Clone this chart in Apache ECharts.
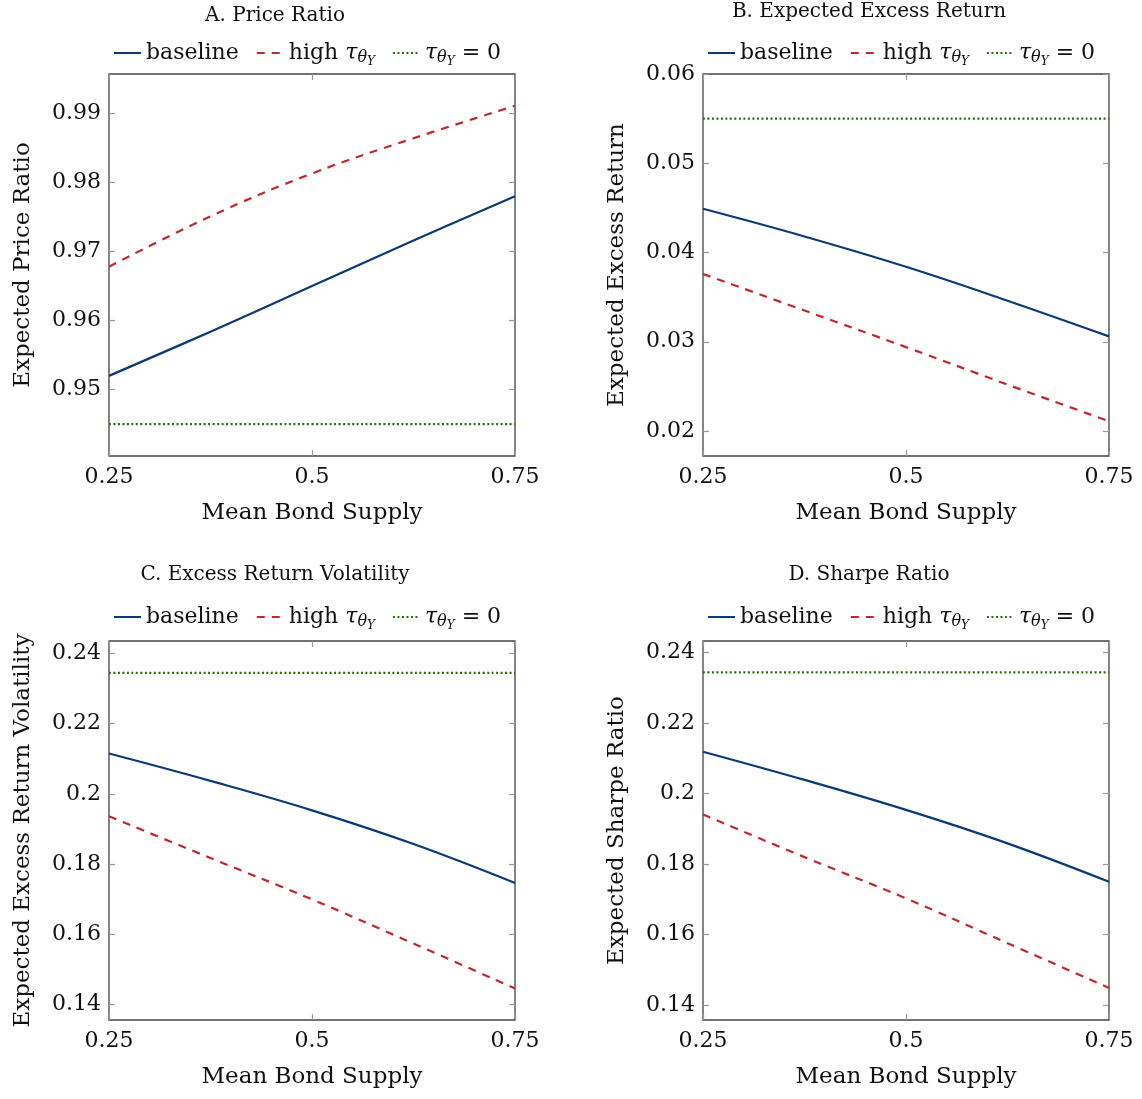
<!DOCTYPE html>
<html>
<head>
<meta charset="utf-8">
<script src="https://cdn.jsdelivr.net/npm/echarts@6/dist/echarts.min.js"></script>
<style>
  html, body { margin: 0; background: #fff; }
  #chart { width: 1142px; height: 1099px; }
</style>
</head>
<body>
<div id="chart"></div>
<script>
// mean bond supply on the x axis
const supply = [0.25, 0.375, 0.5, 0.625, 0.75];
const supplyTicks = [0.25, 0.5, 0.75];

const priceBaseline = [0.9520, 0.9584, 0.9650, 0.9716, 0.9780];
const priceHigh = [0.9678, 0.9751, 0.9813, 0.9864, 0.9911];
const priceZero = [0.945, 0.945, 0.945, 0.945, 0.945];
const priceTicks = [0.95, 0.96, 0.97, 0.98, 0.99];

const returnBaseline = [0.0449, 0.0418, 0.0384, 0.0346, 0.0306];
const returnHigh = [0.0376, 0.0335, 0.0294, 0.0252, 0.0211];
const returnZero = [0.055, 0.055, 0.055, 0.055, 0.055];
const returnTicks = [0.02, 0.03, 0.04, 0.05, 0.06];

const volBaseline = [0.2115, 0.2037, 0.1953, 0.1857, 0.1746];
const volHigh = [0.1936, 0.1817, 0.1699, 0.1573, 0.1445];
const volZero = [0.2345, 0.2345, 0.2345, 0.2345, 0.2345];
const volTicks = [0.14, 0.16, 0.18, 0.2, 0.22, 0.24];

const sharpeBaseline = [0.2119, 0.2039, 0.1954, 0.1859, 0.1750];
const sharpeHigh = [0.1941, 0.1820, 0.1703, 0.1576, 0.1449];
const sharpeZero = [0.2344, 0.2344, 0.2344, 0.2344, 0.2344];
const sharpeTicks = [0.14, 0.16, 0.18, 0.2, 0.22, 0.24];

const FONT = "DejaVu Serif";

const panels = [
  {title: "A. Price Ratio", yName: "Expected Price Ratio", lines: [priceBaseline, priceHigh, priceZero],
    ticks: priceTicks, min: 0.9404, max: 0.9957, left: 109, top: 74, height: 382, titleX: 270, titleY: 1, legendTop: 42},
  {title: "B. Expected Excess Return", yName: "Expected Excess Return", lines: [returnBaseline, returnHigh, returnZero],
    ticks: returnTicks, min: 0.0172, max: 0.06, left: 703, top: 74, height: 382, titleX: 864, titleY: -3, legendTop: 42},
  {title: "C. Excess Return Volatility", yName: "Expected Excess Return Volatility", lines: [volBaseline, volHigh, volZero],
    ticks: volTicks, min: 0.1355, max: 0.2436, left: 109, top: 641, height: 379, titleX: 270, titleY: 560, legendTop: 606},
  {title: "D. Sharpe Ratio", yName: "Expected Sharpe Ratio", lines: [sharpeBaseline, sharpeHigh, sharpeZero],
    ticks: sharpeTicks, min: 0.1358, max: 0.2433, left: 703, top: 641, height: 379, titleX: 864, titleY: 560, legendTop: 606},
];

const seriesNames = ["baseline", "high", "zero"];
const seriesStyles = [
  {color: "#0a3a78", width: 2.2, type: "solid"},
  {color: "#c5262c", width: 2.2, type: [8, 7]},
  {color: "#2a6e0c", width: 2.2, type: [2, 2.5]},
];
const legendLabels = {
  baseline: "baseline",
  high: "high {t|τ}{s|θ}{y|Y}",
  zero: "{t|τ}{s|θ}{y|Y} = 0",
};

const tickStyle = (values) => ({
  show: true, inside: true, length: 6, customValues: values,
  lineStyle: {color: "#999", width: 1.2},
});

const option = {
  animation: false,
  title: [],
  legend: [],
  grid: [],
  xAxis: [],
  yAxis: [],
  series: [],
};

panels.forEach((p, i) => {
  option.title.push({
    text: p.title, left: p.titleX, top: p.titleY, textAlign: "center",
    textStyle: {fontFamily: FONT, fontSize: 20, fontWeight: "normal", color: "#111"},
  });
  option.legend.push({
    data: seriesNames, left: p.left + 4, top: p.legendTop, padding: 0,
    itemWidth: 27, itemHeight: 14, itemGap: 17, selectedMode: false,
    itemStyle: {opacity: 0},
    formatter: (name) => legendLabels[name],
    textStyle: {
      fontFamily: FONT, fontSize: 22, color: "#111",
      rich: {
        t: {fontFamily: FONT, fontSize: 22, fontStyle: "italic", color: "#111"},
        s: {fontFamily: FONT, fontSize: 16, fontStyle: "italic", color: "#111", padding: [10, 0, 0, 0]},
        y: {fontFamily: FONT, fontSize: 12, fontStyle: "italic", color: "#111", padding: [18, 0, 0, 0]},
      },
    },
  });
  option.grid.push({
    left: p.left, top: p.top, width: 406, height: p.height,
    show: true, borderColor: "#444", borderWidth: 1.3, backgroundColor: "transparent",
  });
  // bottom axis with labels, top axis only mirrors the ticks
  option.xAxis.push({
    type: "value", gridIndex: i, min: 0.25, max: 0.75, position: "bottom",
    name: "Mean Bond Supply", nameLocation: "middle", nameGap: 46,
    nameTextStyle: {fontFamily: FONT, fontSize: 23, color: "#111"},
    axisLine: {show: false}, splitLine: {show: false},
    axisTick: tickStyle(supplyTicks),
    axisLabel: {customValues: supplyTicks, margin: 10, fontFamily: FONT, fontSize: 22, color: "#111"},
  });
  option.xAxis.push({
    type: "value", gridIndex: i, min: 0.25, max: 0.75, position: "top",
    axisLine: {show: false}, splitLine: {show: false},
    axisTick: tickStyle(supplyTicks), axisLabel: {show: false},
  });
  option.yAxis.push({
    type: "value", gridIndex: i, min: p.min, max: p.max, position: "left",
    name: p.yName, nameLocation: "middle", nameRotate: 90, nameGap: 74,
    nameTextStyle: {fontFamily: FONT, fontSize: 23, color: "#111"},
    axisLine: {show: false}, splitLine: {show: false},
    axisTick: tickStyle(p.ticks),
    axisLabel: {customValues: p.ticks, margin: 8, fontFamily: FONT, fontSize: 22, color: "#111"},
  });
  option.yAxis.push({
    type: "value", gridIndex: i, min: p.min, max: p.max, position: "right",
    axisLine: {show: false}, splitLine: {show: false},
    axisTick: tickStyle(p.ticks), axisLabel: {show: false},
  });
  p.lines.forEach((vals, k) => {
    option.series.push({
      name: seriesNames[k], type: "line", xAxisIndex: i * 2, yAxisIndex: i * 2,
      data: supply.map((x, j) => [x, vals[j]]),
      symbol: "none", smooth: 0.4,
      lineStyle: seriesStyles[k], itemStyle: {color: seriesStyles[k].color},
    });
  });
});

const chart = echarts.init(document.getElementById("chart"));
chart.setOption(option);
</script>
</body>
</html>
